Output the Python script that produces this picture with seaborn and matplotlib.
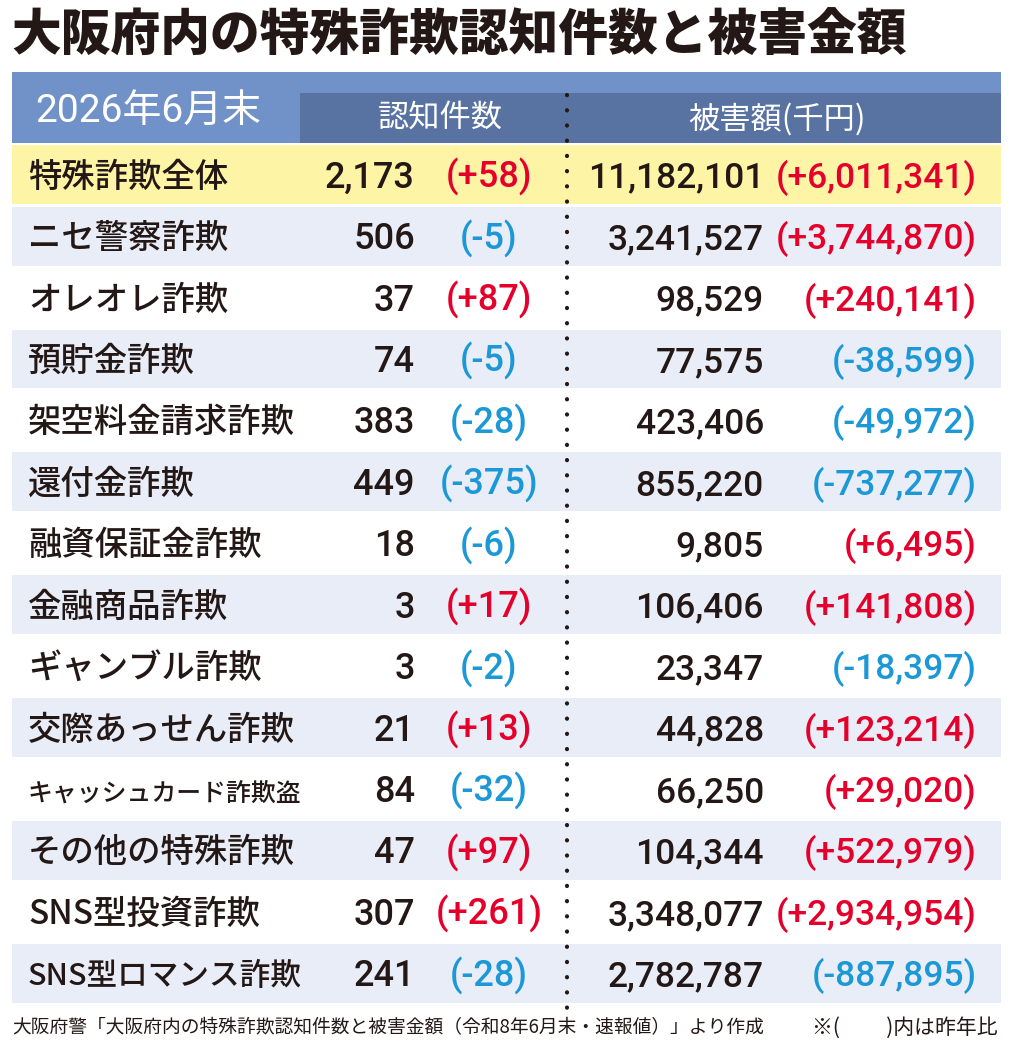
import matplotlib
matplotlib.use("Agg")
import numpy as np
import pandas as pd
import matplotlib.pyplot as plt
import seaborn as sns
from matplotlib.patches import Rectangle

categories = ["特殊詐欺全体", "ニセ警察詐欺", "オレオレ詐欺", "預貯金詐欺", "架空料金請求詐欺",
              "還付金詐欺", "融資保証金詐欺", "金融商品詐欺", "ギャンブル詐欺", "交際あっせん詐欺",
              "キャッシュカード詐欺盗", "その他の特殊詐欺", "SNS型投資詐欺", "SNS型ロマンス詐欺"]
counts = [2173, 506, 37, 74, 383, 449, 18, 3, 3, 21, 84, 47, 307, 241]
count_diff = [58, -5, 87, -5, -28, -375, -6, 17, -2, 13, -32, 97, 261, -28]
amounts = [11182101, 3241527, 98529, 77575, 423406, 855220, 9805, 106406,
           23347, 44828, 66250, 104344, 3348077, 2782787]
amount_diff = [6011341, 3744870, 240141, -38599, -49972, -737277, 6495, 141808,
               -18397, 123214, 29020, 522979, 2934954, -887895]

title = "大阪府内の特殊詐欺認知件数と被害金額"
period = "2026年6月末"
col_heads = ["認知件数", "被害額(千円)"]
source = "大阪府警「大阪府内の特殊詐欺認知件数と被害金額（令和8年6月末・速報値）」より作成"
note = "※(　　 )内は昨年比"

sns.set_theme(style="white")
jp = ["Noto Sans CJK JP", "DejaVu Sans"]
num = ["Roboto", "Noto Sans CJK JP", "DejaVu Sans"]
plt.rcParams["font.family"] = jp

INK = "#231815"
RED = "#e4002b"
BLUE = "#1b98d5"

W, H = 1012, 1050
fig = plt.figure(figsize=(W / 100, H / 100), dpi=100)

# table geometry in pixels
left, right = 12, 1001
top, bottom = 144, 1004
n = len(categories)
rh = (bottom - top) / n

# row bands with seaborn
df = pd.DataFrame({"category": categories, "span": 1.0})
df["band"] = ["total"] + ["odd" if i % 2 else "even" for i in range(1, n)]
ax_bg = fig.add_axes([left / W, 1 - bottom / H, (right - left) / W, (bottom - top) / H])
sns.barplot(data=df, x="span", y="category", hue="band", dodge=False, width=0.96,
            palette={"total": "#fdf4a6", "odd": "#e9edf7", "even": "#ffffff"},
            saturation=1, legend=False, linewidth=0, ax=ax_bg)
ax_bg.set_xlim(0, 1)
ax_bg.set_ylim(n - 0.5, -0.5)
ax_bg.axis("off")

# overlay in pixel coordinates for header and text
ax = fig.add_axes([0, 0, 1, 1])
ax.set_xlim(0, W)
ax.set_ylim(H, 0)
ax.axis("off")
ax.patch.set_alpha(0)

ax.text(11, 36, title, fontsize=35.8, fontweight="heavy", color=INK, ha="left", va="center")

ax.add_patch(Rectangle((left, 72), right - left, 71, color="#7092c9", lw=0))
ax.add_patch(Rectangle((300, 93), right - 300, 50, color="#5873a2", lw=0))
ax.text(148, 112, period, fontsize=28, color="white", ha="center", va="center",
        family=num)
ax.text(440, 119, col_heads[0], fontsize=22.5, color="white", ha="center", va="center")
ax.text(777, 119, col_heads[1], fontsize=22.5, color="white", ha="center", va="center")

# dotted separator
ax.plot([567, 567], [95, 1012], color=INK, lw=3, dash_capstyle="round",
        linestyle=(0, (0.05, 3.6)))

renderer = fig.canvas.get_renderer()
for i in range(n):
    yc = top + (i + 0.5) * rh
    base = yc + 13
    lab = ax.text(28, yc + 12, categories[i], fontsize=24, color=INK, ha="left",
                  va="baseline", fontweight="medium")
    w = lab.get_window_extent(renderer).width
    if w > 274:
        lab.set_fontsize(24 * 274 / w)
    ax.text(415, base, f"{counts[i]:,}", fontsize=26, color=INK, ha="right",
            va="baseline", family=num, fontweight="medium")
    ax.text(489, base, f"({count_diff[i]:+,})", fontsize=26,
            color=RED if count_diff[i] > 0 else BLUE, ha="center", va="baseline",
            family=num, fontweight="medium")
    ax.text(764, base, f"{amounts[i]:,}", fontsize=25.5, color=INK, ha="right",
            va="baseline", family=num, fontweight="medium")
    ax.text(977, base, f"({amount_diff[i]:+,})", fontsize=25.5,
            color=RED if amount_diff[i] > 0 else BLUE, ha="right", va="baseline",
            family=num, fontweight="medium")

ax.text(12, 1028, source, fontsize=13.5, color=INK, ha="left", va="center")
ax.text(998, 1028, note, fontsize=15, color=INK, ha="right", va="center")

fig.savefig("out.png", dpi=100)
